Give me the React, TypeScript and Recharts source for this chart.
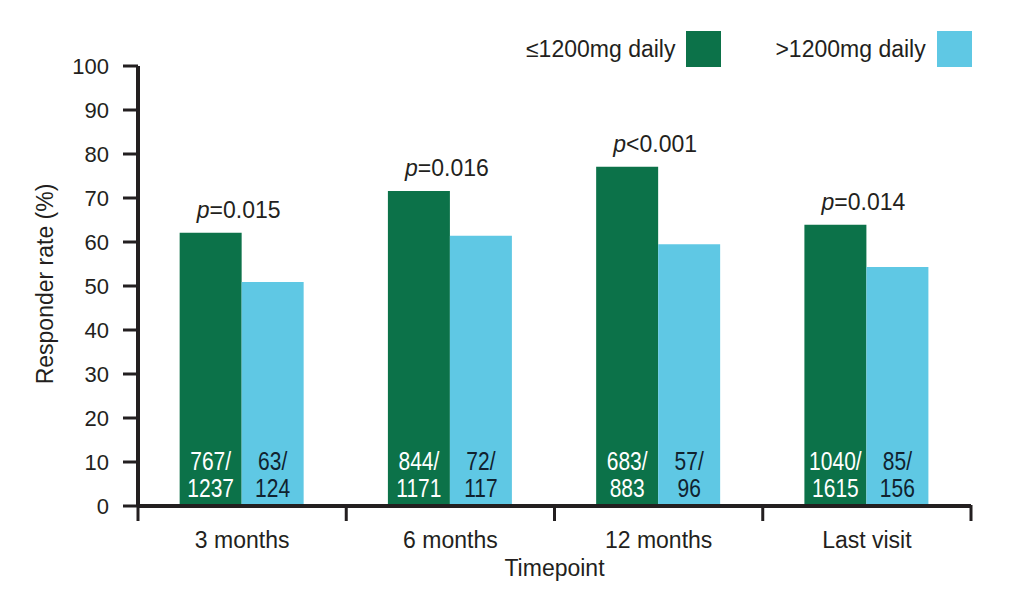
import React from 'react';
import { BarChart, Bar, XAxis, YAxis, Legend, LabelList, Label } from 'recharts';

const categories = ['3 months', '6 months', '12 months', 'Last visit'];
const lowDoseRate = [62.1, 71.6, 77.1, 63.9];
const highDoseRate = [50.9, 61.4, 59.5, 54.3];
const lowDoseCounts = ['767/1237', '844/1171', '683/883', '1040/1615'];
const highDoseCounts = ['63/124', '72/117', '57/96', '85/156'];
const pValues = ['=0.015', '=0.016', '<0.001', '=0.014'];
const yTicks = [0, 10, 20, 30, 40, 50, 60, 70, 80, 90, 100];

const seriesNames = ['\u22641200mg daily', '>1200mg daily'];
const GREEN = '#0c7249';
const BLUE = '#5fc8e4';
const INK = '#231f20';
const FONT = '"Liberation Sans", Arial, sans-serif';

const data = categories.map((category, i) => ({
  category,
  low: lowDoseRate[i],
  high: highDoseRate[i],
  lowCounts: lowDoseCounts[i],
  highCounts: highDoseCounts[i],
  p: pValues[i],
}));

function CategoryTick(props: any) {
  const { x, y, payload, index } = props;
  const half = payload && typeof payload.offset === 'number' ? payload.offset : 0;
  const isLast = index === categories.length - 1;
  return (
    <g>
      <line x1={x - half} x2={x - half} y1={y - 16} y2={y} stroke={INK} strokeWidth={3} />
      {isLast && <line x1={x + half} x2={x + half} y1={y - 16} y2={y} stroke={INK} strokeWidth={3} />}
      <text x={x} y={y + 27} textAnchor="middle" fill={INK} fontSize={23} fontFamily={FONT}>
        {payload.value}
      </text>
    </g>
  );
}

function CountLabel(color: string) {
  return (props: any) => {
    const { x, y, width, height, value } = props;
    const [num, den] = String(value).split('/');
    const cx = x + width / 2;
    const bottom = y + height;
    const t = `translate(${cx},0) scale(0.84,1) translate(${-cx},0)`;
    return (
      <g transform={t}>
        <text x={cx} y={bottom - 36} textAnchor="middle" fill={color} fontSize={25} fontFamily={FONT}>
          {num + '/'}
        </text>
        <text x={cx} y={bottom - 9} textAnchor="middle" fill={color} fontSize={25} fontFamily={FONT}>
          {den}
        </text>
      </g>
    );
  };
}

function PLabel(props: any) {
  const { x, y, width, value } = props;
  return (
    <text x={x + width - 3} y={y - 15} textAnchor="middle" fill={INK} fontSize={23} fontFamily={FONT}>
      <tspan fontStyle="italic">p</tspan>
      <tspan>{value}</tspan>
    </text>
  );
}

function LegendContent(props: any) {
  const payload = [...(props.payload || [])].sort(
    (a: any, b: any) => seriesNames.indexOf(a.value) - seriesNames.indexOf(b.value)
  );
  return (
    <div style={{ display: 'flex', alignItems: 'center', fontFamily: FONT, fontSize: 23, color: INK }}>
      {payload.map((entry: any, i: number) => (
        <div key={i} style={{ display: 'flex', alignItems: 'center', marginRight: i === 0 ? 54 : 0 }}>
          <span style={{ whiteSpace: 'nowrap' }}>{entry.value}</span>
          <span style={{ display: 'inline-block', width: 35, height: 36, background: entry.color, marginLeft: 11 }} />
        </div>
      ))}
    </div>
  );
}

export default function App() {
  return (
    <div style={{ position: 'absolute', left: 0, top: 0, width: 1013, height: 601, background: '#fff' }}>
      <BarChart
        width={1013}
        height={601}
        data={data}
        margin={{ top: 66, right: 42, bottom: 0, left: 0 }}
        barCategoryGap="20%"
        barGap={0}
        style={{ fontFamily: FONT }}
      >
        <XAxis
          dataKey="category"
          interval={0}
          height={95}
          tickSize={15}
          tickMargin={0}
          tickLine={false}
          axisLine={{ stroke: INK, strokeWidth: 4 }}
          tick={<CategoryTick />}
        >
          <Label
            content={(p: any) => {
              const vb = p.viewBox || { x: 138, y: 506, width: 832, height: 95 };
              return (
                <text x={vb.x + vb.width / 2} y={vb.y + 70} textAnchor="middle" fill={INK} fontSize={23} fontFamily={FONT}>
                  Timepoint
                </text>
              );
            }}
          />
        </XAxis>
        <YAxis
          width={138}
          domain={[0, 100]}
          ticks={yTicks}
          interval={0}
          tickSize={15}
          tickMargin={14}
          axisLine={{ stroke: INK, strokeWidth: 4 }}
          tickLine={{ stroke: INK, strokeWidth: 3 }}
          tick={{ fill: INK, fontSize: 22, fontFamily: FONT }}
        >
          <Label
            content={(p: any) => {
              const vb = p.viewBox || { x: 0, y: 66, width: 138, height: 440 };
              const cx = vb.x + 45;
              const cy = vb.y + vb.height / 2 - 2;
              return (
                <text
                  x={cx}
                  y={cy}
                  transform={`rotate(-90, ${cx}, ${cy})`}
                  textAnchor="middle"
                  dominantBaseline="central"
                  fill={INK}
                  fontSize={23}
                  fontFamily={FONT}
                >
                  Responder rate (%)
                </text>
              );
            }}
          />
        </YAxis>
        <Legend
          layout="horizontal"
          verticalAlign="middle"
          align="center"
          wrapperStyle={{ top: 31, left: 526, width: 460, height: 36 }}
          content={<LegendContent />}
        />
        <Bar dataKey="low" name={seriesNames[0]} fill={GREEN} isAnimationActive={false}>
          <LabelList dataKey="lowCounts" content={CountLabel('#ffffff')} />
          <LabelList dataKey="p" content={PLabel} />
        </Bar>
        <Bar dataKey="high" name={seriesNames[1]} fill={BLUE} isAnimationActive={false}>
          <LabelList dataKey="highCounts" content={CountLabel('#10222f')} />
        </Bar>
      </BarChart>
    </div>
  );
}
